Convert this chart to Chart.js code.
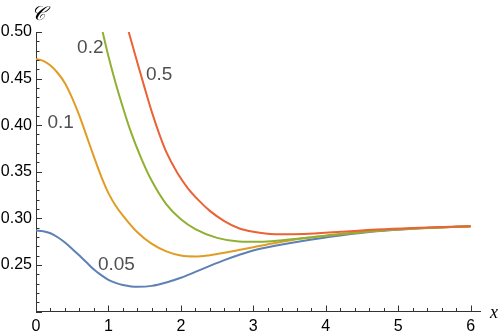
<!DOCTYPE html>
<html>
<head>
<meta charset="utf-8">
<script src="https://cdn.jsdelivr.net/npm/chart.js@4.4.0/dist/chart.umd.min.js"></script>
<style>
  html, body { margin: 0; padding: 0; background: #fff; }
  #wrap { width: 500px; height: 334px; position: relative; }
</style>
</head>
<body>
<div id="wrap"><canvas id="chart"></canvas></div>
<script>
// curve for 0.05
const xBlue = [0, 0.1, 0.2, 0.3, 0.4, 0.5, 0.6, 0.7, 0.8, 0.9, 1.0, 1.1, 1.2, 1.4, 1.6, 1.8, 2.0, 2.2, 2.4, 2.6, 2.8, 3.0, 3.3, 3.7, 4.2, 4.7, 5.2, 6.0];
const yBlue = [0.287, 0.2862, 0.284, 0.2797, 0.274, 0.2672, 0.260, 0.2525, 0.245, 0.239, 0.234, 0.2307, 0.2285, 0.2265, 0.2275, 0.2312, 0.2362, 0.2425, 0.2490, 0.2552, 0.2607, 0.2655, 0.2705, 0.2760, 0.2815, 0.2860, 0.2888, 0.2915];

// curve for 0.1
const xOrange = [0, 0.1, 0.2, 0.3, 0.4, 0.5, 0.6, 0.7, 0.8, 0.9, 1.0, 1.1, 1.2, 1.4, 1.6, 1.8, 2.0, 2.2, 2.4, 2.6, 2.8, 3.0, 3.3, 3.7, 4.2, 4.7, 5.2, 6.0];
const yOrange = [0.471, 0.469, 0.464, 0.456, 0.445, 0.429, 0.410, 0.388, 0.366, 0.345, 0.327, 0.3135, 0.303, 0.285, 0.2725, 0.2645, 0.260, 0.259, 0.2605, 0.263, 0.266, 0.269, 0.2735, 0.2785, 0.2828, 0.2865, 0.289, 0.2915];

// curve for 0.2
const xGreen = [0.92, 1.0, 1.1, 1.2, 1.3, 1.45, 1.6, 1.8, 2.0, 2.2, 2.5, 2.8, 3.1, 3.4, 3.7, 4.2, 4.7, 5.2, 6.0];
const yGreen = [0.500, 0.474, 0.445, 0.419, 0.395, 0.365, 0.340, 0.315, 0.299, 0.2885, 0.279, 0.2752, 0.2748, 0.2765, 0.2788, 0.2832, 0.2868, 0.289, 0.2915];

// curve for 0.5
const xRed = [1.28, 1.4, 1.5, 1.6, 1.7, 1.8, 1.95, 2.1, 2.25, 2.4, 2.6, 2.8, 3.0, 3.3, 3.7, 4.2, 4.7, 5.2, 6.0];
const yRed = [0.500, 0.467, 0.440, 0.414, 0.391, 0.371, 0.349, 0.332, 0.319, 0.308, 0.297, 0.2893, 0.2855, 0.283, 0.2832, 0.2855, 0.288, 0.2897, 0.2915];

const curveNames = ['0.05', '0.1', '0.2', '0.5'];
const xTicks = [0, 1, 2, 3, 4, 5, 6];
const yTicks = [0.25, 0.30, 0.35, 0.40, 0.45, 0.50];

// where the curve names sit, in data units
const labelX = [1.11, 0.34, 0.75, 1.70];
const labelY = [0.2503, 0.4025, 0.483, 0.454];

const colors = ['#5E81B5', '#E19C24', '#8FB032', '#EB6235'];

function pts(xs, ys) {
  return xs.map((x, i) => ({ x: x, y: ys[i] }));
}

const series = [[xBlue, yBlue], [xOrange, yOrange], [xGreen, yGreen], [xRed, yRed]];

const datasets = series.map((s, i) => ({
  label: curveNames[i],
  data: pts(s[0], s[1]),
  borderColor: colors[i],
  borderWidth: 2,
  pointRadius: 0,
  fill: false,
  cubicInterpolationMode: 'monotone',
  order: 3 - i
}));

// inward tick marks, curve labels and axis names
const decorations = {
  id: 'decorations',
  afterDraw(chart) {
    const ctx = chart.ctx;
    const xs = chart.scales.x, ys = chart.scales.y;
    const x0 = xs.left, y0 = ys.bottom;
    ctx.save();
    ctx.strokeStyle = '#333';
    ctx.lineWidth = 1;
    ctx.beginPath();
    for (let k = 0; k <= 30; k++) {
      const v = k * 0.2;
      const px = Math.round(xs.getPixelForValue(v)) + 0.5;
      const len = (k % 5 === 0) ? 6 : 3.5;
      ctx.moveTo(px, y0);
      ctx.lineTo(px, y0 - len);
    }
    for (let k = 20; k <= 50; k++) {
      const v = k / 100;
      const py = Math.round(ys.getPixelForValue(v)) + 0.5;
      const len = (k % 5 === 0) ? 6 : 3.5;
      ctx.moveTo(x0, py);
      ctx.lineTo(x0 + len, py);
    }
    ctx.stroke();

    ctx.fillStyle = '#505050';
    ctx.font = '19px "Liberation Sans", Arial, sans-serif';
    ctx.textAlign = 'center';
    ctx.textBaseline = 'middle';
    curveNames.forEach((n, i) => {
      ctx.fillText(n, xs.getPixelForValue(labelX[i]), ys.getPixelForValue(labelY[i]));
    });

    ctx.fillStyle = '#000';
    ctx.font = 'italic 18px "Liberation Serif", "DejaVu Serif", serif';
    ctx.textAlign = 'left';
    ctx.textBaseline = 'alphabetic';
    ctx.fillText('x', 490, 318);
    ctx.font = 'italic 20px "DejaVu Serif", "Liberation Serif", serif';
    ctx.textAlign = 'center';
    ctx.fillText('\u{1D49E}', 38, 20);
    ctx.restore();
  }
};

new Chart(document.getElementById('chart'), {
  type: 'line',
  data: { datasets: datasets },
  options: {
    responsive: true,
    maintainAspectRatio: false,
    animation: false,
    layout: { padding: { top: 32, right: 20, left: 0, bottom: 0 } },
    plugins: {
      legend: { display: false },
      tooltip: { enabled: false }
    },
    scales: {
      x: {
        type: 'linear',
        min: 0,
        max: 6.13,
        afterFit: (s) => { s.height = 22.5; },
        afterBuildTicks: (s) => { s.ticks = xTicks.map(v => ({ value: v })); },
        grid: { display: false, drawTicks: false },
        border: { display: true, color: '#333', width: 1 },
        ticks: {
          padding: 5,
          color: '#000',
          font: { family: '"Liberation Sans", Arial, sans-serif', size: 16 },
          callback: (v) => String(v),
          maxRotation: 0,
          autoSkip: false
        }
      },
      y: {
        type: 'linear',
        min: 0.2,
        max: 0.5,
        afterFit: (s) => { s.width = 36; },
        afterBuildTicks: (s) => { s.ticks = yTicks.map(v => ({ value: v })); },
        grid: { display: false, drawTicks: false },
        border: { display: true, color: '#333', width: 1 },
        ticks: {
          padding: 4,
          color: '#000',
          font: { family: '"Liberation Sans", Arial, sans-serif', size: 16 },
          callback: (v) => v.toFixed(2),
          autoSkip: false
        }
      }
    }
  },
  plugins: [decorations]
});
</script>
</body>
</html>
